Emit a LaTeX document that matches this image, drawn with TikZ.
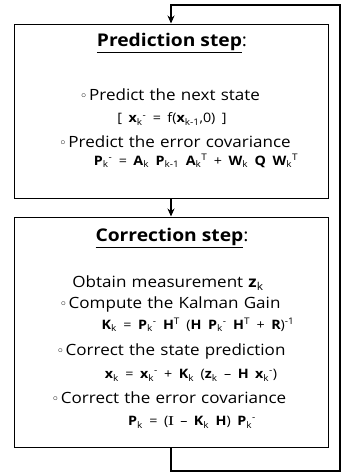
\documentclass[tikz,border=0pt]{standalone}
\usepackage{fontspec}
\newfontfamily\osans[FakeStretch=1.1]{Open Sans}
\newfontfamily\dvsans{DejaVu Sans}
\usetikzlibrary{arrows.meta,shadows}
\newcommand\sbk[1]{\textsubscript{\mdseries #1}}
\newcommand\spk[1]{\textsuperscript{\mdseries #1}}
\newcommand\bv[1]{\textbf{#1}}
\newcommand\bul{{\dvsans\fontsize{13}{13}\selectfont ◦}\hspace{1.5pt}}
\begin{document}
\begin{tikzpicture}[x=1pt,y=1pt,
  box/.style={draw, line width=1pt, fill=white, minimum width=314pt, inner sep=0pt,
    drop shadow={shadow xshift=1.4pt,shadow yshift=-1.4pt,fill=black,opacity=1}},
  title/.style={font=\osans\fontsize{17.5}{20}\selectfont, inner sep=0pt},
  txt/.style={font={\osans\fontsize{15.5}{18}\selectfont\spaceskip=5.2pt\relax}, inner sep=0pt},
  eq/.style={font={\osans\fontsize{13}{15}\selectfont\spaceskip=6.5pt\relax}, inner sep=0pt},
  link/.style={line width=1.3pt},
  tip/.style={-{Stealth[length=8pt,width=7pt]}}]
\fill[white] (0,0) rectangle (344,-475);
\useasboundingbox (0,0) rectangle (344,-475);
% boxes
\node[box, minimum height=174pt] (pred) at (171,-111) {};
\node[box, minimum height=230pt] (corr) at (171,-332) {};
% prediction text
\node[title] (pt) at (172,-43) {\underline{\textbf{Prediction step}}:};
\node[txt] (p1) at (170,-95) {\bul Predict the next state};
\node[eq] (p2) at (172,-119) {[ \bv{x}\sbk{k}\spk{-} = f(\bv{x}\sbk{k-1},0) ]};
\node[txt] (p3) at (175,-142) {\bul Predict the error covariance};
\node[eq] (p4) at (196,-161) {\bv{P}\sbk{k}\spk{-} = \bv{A}\sbk{k} \bv{P}\sbk{k-1} \bv{A}\sbk{k}\spk{T} + \bv{W}\sbk{k} \bv{Q} \bv{W}\sbk{k}\spk{T}};
% correction text
\node[title] (ct) at (172,-238) {\underline{\textbf{Correction step}}:};
\node[txt] (c1) at (168,-283) {Obtain measurement \bv{z}\sbk{k}};
\node[txt] (c2) at (170,-304) {\bul Compute the Kalman Gain};
\node[eq] (c3) at (198,-325) {\bv{K}\sbk{k} = \bv{P}\sbk{k}\spk{-} \bv{H}\spk{T} (\bv{H} \bv{P}\sbk{k}\spk{-} \bv{H}\spk{T} + \bv{R})\spk{-1}};
\node[txt] (c4) at (171,-351) {\bul Correct the state prediction};
\node[eq] (c5) at (191,-375) {\bv{x}\sbk{k} = \bv{x}\sbk{k}\spk{-} + \bv{K}\sbk{k} (\bv{z}\sbk{k} – \bv{H} \bv{x}\sbk{k}\spk{-})};
\node[txt] (c6) at (169,-398) {\bul Correct the error covariance};
\node[eq] (c7) at (192,-422) {\bv{P}\sbk{k} = ({\rmfamily\bfseries I} – \bv{K}\sbk{k} \bv{H}) \bv{P}\sbk{k}\spk{-}};
% connectors
\coordinate (lr) at (340,-471);
\coordinate (tl) at (171,-5);
\draw[link,tip] (pred.south) -- (corr.north);
\draw[link,tip] (corr.south) |- (lr) |- (tl) -- (pred.north);
\end{tikzpicture}
\end{document}
